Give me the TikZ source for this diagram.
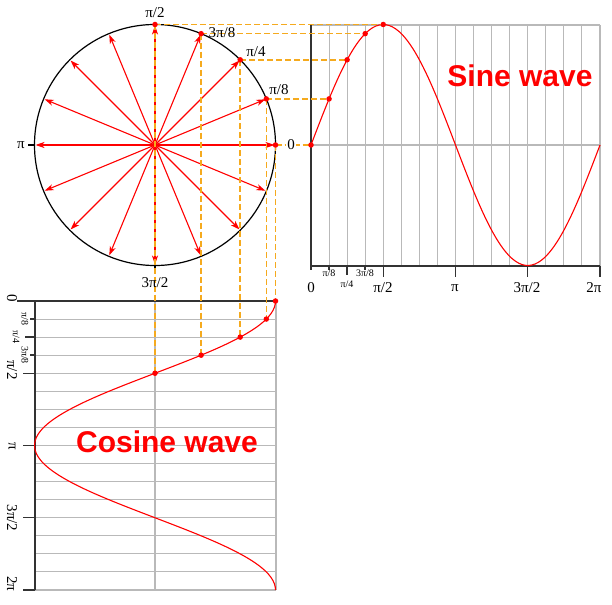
\documentclass[tikz,border=0pt]{standalone}
\usepackage{fontspec}
\setmainfont{Liberation Serif}
\setsansfont{Liberation Sans}
\usetikzlibrary{arrows.meta}

\definecolor{projorange}{RGB}{245,170,30}
\definecolor{gridgray}{RGB}{185,185,185}

\begin{document}
\begin{tikzpicture}[x=1pt,y=-1pt,>={Stealth[length=9pt,width=6pt,inset=2.5pt]},
	wave/.style={red,line width=1.1pt},
	phasor/.style={red,line width=1.1pt,->,shorten >=1pt},
	grid line/.style={gridgray,line width=1.1pt},
	axis line/.style={black!80,line width=1.4pt},
	proj line/.style={projorange,line width=1.5pt,dash pattern=on 6pt off 3pt},
	dot/.style={circle,fill=red,inner sep=0pt,minimum size=5.5pt},
	big label/.style={font=\fontsize{15}{17}\selectfont,inner sep=1pt},
	small label/.style={font=\fontsize{10}{12}\selectfont,inner sep=1pt},
	title/.style={red,font=\sffamily\bfseries\fontsize{30}{34}\selectfont}]

	\useasboundingbox (0,0) rectangle (612,604);

	% grids
	\foreach \j in {1,...,16} {
		\draw[grid line] ({311+\j*18.0625},25) -- ({311+\j*18.0625},266);
		\draw[grid line] (35,{301+\j*18.0625}) -- (276,{301+\j*18.0625});
	}
	\draw[grid line] (311,25) -- (600,25);
	\draw[grid line] (311,145) -- (600,145);
	\draw[grid line] (155,301) -- (155,590);
	\draw[grid line] (276,301) -- (276,590);

	% axes and ticks
	\draw[axis line] (311,25) -- (311,270);
	\draw[axis line] (311,266) -- (600,266);
	\draw[axis line] (35,301) -- (35,590);
	\draw[axis line] (17,301) -- (276,301);
	\foreach \j/\len in {1/4,2/9,3/4,4/11,8/11,12/11,16/11} {
		\draw[axis line] ({311+\j*18.0625},266) -- ({311+\j*18.0625},{266+\len});
		\draw[axis line] (35,{301+\j*18.0625}) -- ({35-\len-1},{301+\j*18.0625});
	}
	\draw[black,line width=1.2pt] (28,145) -- (35,145);
	\draw[black,line width=1.2pt] (155,266) -- (155,272);

	% circle and curves
	\draw[black,line width=1.2pt] (155,145) circle (120.5);
	\draw[wave] plot[domain=0:360,samples=90,smooth] ({311+0.802778*\x},{145-120.5*sin(\x)});
	\draw[wave] plot[domain=0:360,samples=90,smooth] ({155+120.5*cos(\x)},{301+0.802778*\x});

	% phasors
	\coordinate (o) at (155,145);
	\foreach \i in {0,...,15}
		\draw[phasor] (o) -- ({155+120.5*cos(\i*22.5)},{145-120.5*sin(\i*22.5)});

	% projections
	\foreach \i in {0,...,4} {
		\coordinate (c\i) at ({155+120.5*cos(\i*22.5)},{145-120.5*sin(\i*22.5)});
		\coordinate (s\i) at ({311+\i*18.0625},{145-120.5*sin(\i*22.5)});
		\coordinate (k\i) at ({155+120.5*cos(\i*22.5)},{301+\i*18.0625});
		\draw[proj line] (c\i) -- (s\i);
		\draw[proj line] (c\i) -- (k\i);
		\node[dot] (cd\i) at (c\i) {};
		\node[dot] (sd\i) at (s\i) {};
		\node[dot] (kd\i) at (k\i) {};
	}

	% circle labels
	\node[big label] (c-pi2) at (155,13) {π/2};
	\node[big label] (c-3pi8) at (222,33) {3π/8};
	\node[big label] (c-pi4) at (256,52) {π/4};
	\node[big label] (c-pi8) at (279,90) {π/8};
	\node[big label,fill=white] (c-0) at (291,145) {0};
	\node[big label] (c-pi) at (21,145) {π};
	\node[big label] (c-3pi2) at (155,283) {3π/2};

	% sine axis labels
	\node[big label] (s-0) at (311,288) {0};
	\node[small label] (s-pi8) at (329,273) {π/8};
	\node[small label] (s-pi4) at (347,284) {π/4};
	\node[small label] (s-3pi8) at (365,273) {3π/8};
	\node[big label] (s-pi2) at (383,288) {π/2};
	\node[big label] (s-pi) at (455,288) {π};
	\node[big label] (s-3pi2) at (527,288) {3π/2};
	\node[big label] (s-2pi) at (594,288) {2π};

	% cosine axis labels
	\node[big label,rotate=-90] (k-0) at (12,298) {0};
	\node[small label,rotate=-90] (k-pi8) at (25,319) {π/8};
	\node[small label,rotate=-90] (k-pi4) at (16,337) {π/4};
	\node[small label,rotate=-90] (k-3pi8) at (25,355) {3π/8};
	\node[big label,rotate=-90] (k-pi2) at (12,370) {π/2};
	\node[big label,rotate=-90] (k-pi) at (12,446) {π};
	\node[big label,rotate=-90] (k-3pi2) at (12,518) {3π/2};
	\node[big label,rotate=-90] (k-2pi) at (12,584) {2π};

	\node[title] (sine) at (520,76) {Sine wave};
	\node[title] (cosine) at (167,442) {Cosine wave};
\end{tikzpicture}
\end{document}
